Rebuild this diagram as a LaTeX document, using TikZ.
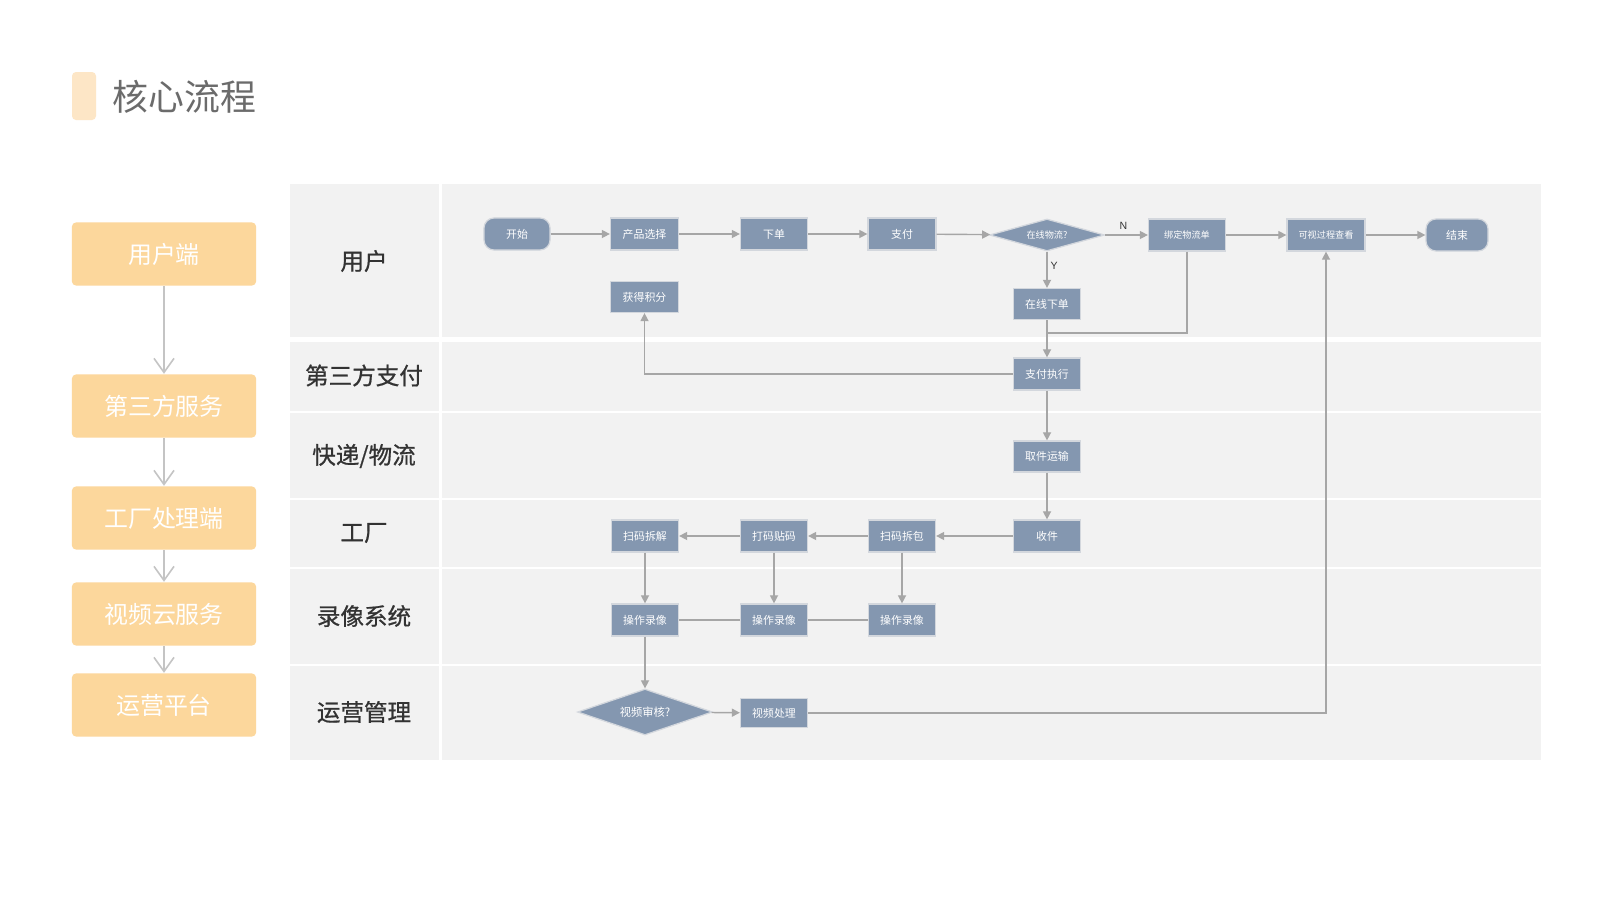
\documentclass[tikz,border=0pt]{standalone}
\usepackage{fontspec}
\newfontfamily\cjk{Noto Sans CJK SC}
\newfontfamily\cjkmed{Noto Sans CJK SC}[FakeBold=0.8]
\newfontfamily\latinsans{Liberation Sans}
\usetikzlibrary{shapes.geometric,arrows.meta}
\definecolor{nodeblue}{HTML}{8497B0}
\definecolor{nodeedge}{HTML}{D3D7DD}
\definecolor{peach}{HTML}{FCD79C}
\definecolor{accent}{HTML}{FDE6C6}
\definecolor{lanebg}{HTML}{F2F2F2}
\definecolor{flowgray}{HTML}{A6A6A6}
\definecolor{colgray}{HTML}{C4C4C4}
\definecolor{titlegray}{HTML}{6B6B6B}
\definecolor{lanetext}{HTML}{333333}
\tikzset{
  proc/.style={rectangle, fill=nodeblue, draw=nodeedge, line width=0.35pt, text=white,
    inner sep=0pt, minimum width=0.67cm, minimum height=0.32cm,
    font=\cjk\fontsize{3.1pt}{3.6pt}\selectfont},
  smalltext/.style={font=\cjk\fontsize{2.6pt}{3pt}\selectfont},
  term/.style={proc, rounded corners=0.1cm},
  dec/.style={diamond, fill=nodeblue, draw=nodeedge, line width=0.35pt, text=white,
    inner sep=0pt},
  flow/.style={draw=flowgray, line width=0.4pt, -{Triangle[length=2.3pt,width=2.3pt]}},
  link/.style={draw=flowgray, line width=0.4pt},
  side/.style={rectangle, rounded corners=0.04cm, fill=peach, text=white,
    minimum width=1.84cm, minimum height=0.63cm, inner sep=0pt,
    font=\cjk\fontsize{6.8pt}{7pt}\selectfont},
  sidearrow/.style={draw=colgray, line width=0.45pt,
    -{Straight Barb[length=4pt,width=5.7pt,line width=0.45pt]}},
  lanelabel/.style={text=lanetext, inner sep=0pt, font=\cjkmed\fontsize{6.7pt}{7pt}\selectfont},
  yn/.style={inner sep=0pt, font=\latinsans\fontsize{3pt}{3pt}\selectfont, text=black!80},
}
\begin{document}
\begin{tikzpicture}[x=0.01cm,y=-0.01cm]
\useasboundingbox (0,0) rectangle (1600,900);
\fill[white] (0,0) rectangle (1600,900);

% title
\fill[accent, rounded corners=0.04cm] (72,72) rectangle (96,120);
\node[anchor=west, inner sep=0pt, text=titlegray, font=\cjk\fontsize{10.2pt}{11pt}\selectfont] (title) at (112,97) {核心流程};

% left column
\node[side] (s1) at (164,254) {用户端};
\node[side] (s2) at (164,406) {第三方服务};
\node[side] (s3) at (164,518) {工厂处理端};
\node[side] (s4) at (164,614) {视频云服务};
\node[side] (s5) at (164,705) {运营平台};
\draw[sidearrow] (s1) -- (s2);
\draw[sidearrow] (s2) -- (s3);
\draw[sidearrow] (s3) -- (s4);
\draw[sidearrow] (s4) -- (s5);

% swimlanes
\fill[lanebg] (290,184) rectangle (1541,760);
\fill[white] (290,337) rectangle (1541,342);
\foreach \yy in {412,499,568,665} {\draw[white, line width=0.5pt] (290,\yy) -- (1541,\yy);}
\fill[white] (439,184) rectangle (442,760);

\node[lanelabel] (l1) at (364,261) {用户};
\node[lanelabel] (l2) at (364,375.5) {第三方支付};
\node[lanelabel] (l3) at (364,456) {快递/物流};
\node[lanelabel] (l4) at (364,533) {工厂};
\node[lanelabel] (l5) at (364,616) {录像系统};
\node[lanelabel] (l6) at (364,712) {运营管理};

% nodes
\node[term, minimum width=0.66cm] (start) at (517,234) {开始};
\node[proc, minimum width=0.68cm] (prod) at (644.5,234) {产品选择};
\node[proc] (order) at (774,234) {下单};
\node[proc, minimum width=0.68cm] (pay) at (902,234) {支付};
\node[dec, smalltext, shape aspect=3.6, minimum width=1.15cm, minimum height=0.32cm] (chk) at (1047,235) {在线物流?};
\node[proc, smalltext, minimum width=0.77cm] (bind) at (1187,235) {绑定物流单};
\node[proc, smalltext, minimum width=0.78cm] (view) at (1326,235) {可视过程查看};
\node[term, minimum width=0.62cm] (end) at (1457,235) {结束};
\node[proc, minimum width=0.68cm, minimum height=0.31cm] (points) at (644.5,297) {获得积分};
\node[proc, minimum height=0.31cm] (online) at (1047,304) {在线下单};
\node[proc] (payexec) at (1047,374) {支付执行};
\node[proc, minimum height=0.31cm] (pickup) at (1047,456.5) {取件运输};
\node[proc] (recv) at (1047,536) {收件};
\node[proc] (unpack) at (902,536) {扫码拆包};
\node[proc] (tag) at (774,536) {打码贴码};
\node[proc] (disasm) at (645,536) {扫码拆解};
\node[proc] (rec1) at (645,620) {操作录像};
\node[proc] (rec2) at (774,620) {操作录像};
\node[proc] (rec3) at (902,620) {操作录像};
\node[dec, font=\cjk\fontsize{3.2pt}{3.6pt}\selectfont, shape aspect=2.93, minimum width=1.35cm, minimum height=0.46cm] (audit) at (645,712) {视频审核?};
\node[proc, minimum height=0.29cm] (vproc) at (774,713) {视频处理};
\coordinate (join) at (1047,333);

% connectors
\draw[flow] (start) -- (prod);
\draw[flow] (prod) -- (order);
\draw[flow] (order) -- (pay);
\draw[flow] (pay) -- (chk);
\draw[flow] (chk) -- node[yn, pos=0.43, above=0.05cm] {N} (bind);
\draw[flow] (chk) -- node[yn, pos=0.38, right=0.03cm] {Y} (online);
\draw[flow] (online) -- (payexec);
\draw[link] (bind.south) |- (join);
\draw[flow] (payexec.west) -| (points.south);
\draw[flow] (payexec) -- (pickup);
\draw[flow] (pickup) -- (recv);
\draw[flow] (recv) -- (unpack);
\draw[flow] (unpack) -- (tag);
\draw[flow] (tag) -- (disasm);
\draw[flow] (disasm) -- (rec1);
\draw[flow] (tag) -- (rec2);
\draw[flow] (unpack) -- (rec3);
\draw[link] (rec1) -- (rec2);
\draw[link] (rec2) -- (rec3);
\draw[flow] (rec1) -- (audit);
\draw[flow] (audit) -- (vproc);
\draw[flow] (vproc.east) -| (view.south);
\draw[flow] (bind) -- (view);
\draw[flow] (view) -- (end);
\end{tikzpicture}
\end{document}
